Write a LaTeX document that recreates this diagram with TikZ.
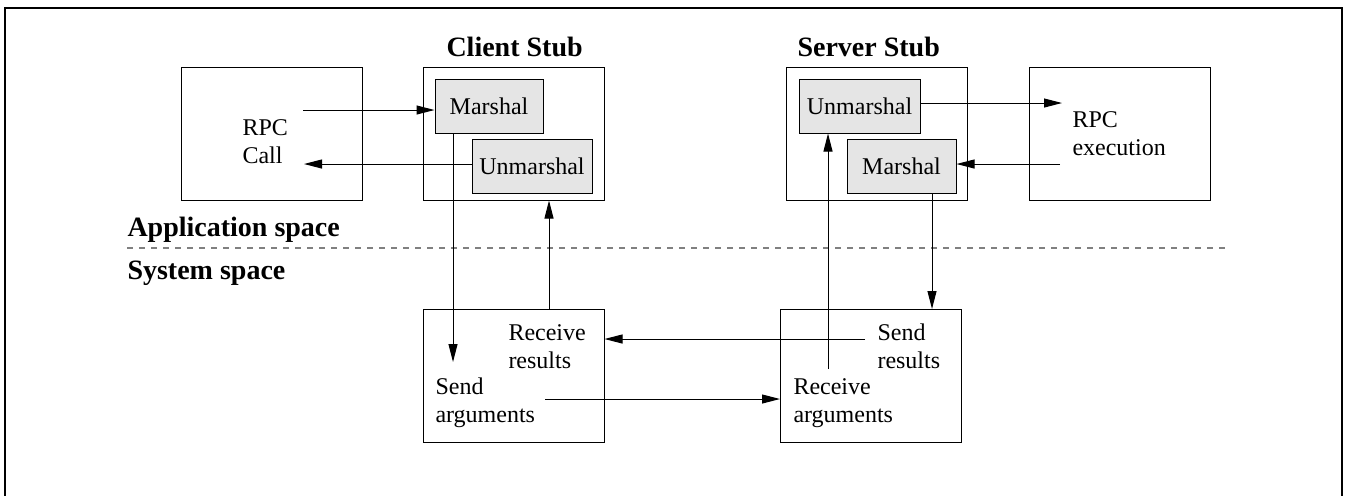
\documentclass[tikz,border=0pt]{standalone}
\usepackage{fontspec}
\setmainfont{Liberation Serif}
\usetikzlibrary{arrows.meta,positioning}

\begin{document}
\begin{tikzpicture}[x=0.5pt,y=-0.5pt,>={Triangle[length=9pt,width=4.5pt]},line width=0.5pt,
		every node/.style={font=\fontsize{12}{14}\selectfont},
		box/.style={draw,minimum width=90.5pt,minimum height=66.5pt,inner sep=0pt},
		stubpart/.style={draw,fill=gray!20,minimum height=27pt,inner sep=0pt},
		txt/.style={inner sep=0pt,anchor=base west,align=left},
		title/.style={inner sep=0pt,anchor=base west,font=\fontsize{14}{17}\selectfont\bfseries}]
			\useasboundingbox (0,0) rectangle (1348,495);
			\draw[line width=1pt] (4.5,500) |- (1342,7.5) -- (1342,500);

			\node[box] (rpccall) at (271.5,133.5) {};
			\node[box] (cstub) at (513.5,133.5) {};
			\node[box] (sstub) at (877,133.5) {};
			\node[box] (rpcexec) at (1120,133.5) {};
			\node[box] (csys) at (513.5,376) {};
			\node[box] (ssys) at (871,376) {};

			\node[stubpart,minimum width=54pt] (cmar) at (489,106) {Marshal};
			\node[stubpart,minimum width=60pt] (cunm) at (532,166.5) {Unmarshal};
			\node[stubpart,minimum width=60.5pt] (sunm) at (859.5,106) {Unmarshal};
			\node[stubpart,minimum width=54.5pt] (smar) at (901.5,166.5) {Marshal};

			\node[title] (cstubl) at (446,56) {Client Stub};
			\node[title] (sstubl) at (797,56) {Server Stub};
			\node[title] (appl) at (127,236) {Application space};
			\node[title] (sysl) at (127,279) {System space};

			\node[txt] (rpcc) at (242,163) {RPC\\Call};
			\node[txt] (rpce) at (1072,155) {RPC\\execution};
			\node[txt] (recres) at (508,368) {Receive\\results};
			\node[txt] (sendarg) at (435,422) {Send\\arguments};
			\node[txt] (sendres) at (877,368) {Send\\results};
			\node[txt] (recarg) at (793,422) {Receive\\arguments};

			\draw[dashed,gray,line width=0.75pt] (127,248) -- (1225,248);

			\coordinate (a1) at (303,110);
			\coordinate (a2) at (304,164);
			\coordinate (a3) at (453,362);
			\coordinate (a4) at (549,309);
			\coordinate (a5) at (1062,103);
			\coordinate (a6) at (1060,164);
			\coordinate (a7) at (932,309);
			\coordinate (a8) at (828,369);
			\coordinate (a9) at (545,399);
			\coordinate (a10) at (865,339);

			\draw[->] (a1) -- (a1 -| cmar.west);
			\draw[->] (a2 -| cunm.west) -- (a2);
			\draw[->] (a3 |- cmar.south) -- (a3);
			\draw[->] (a4 |- csys.north) -- (a4 |- cstub.south);
			\draw[->] (a5 -| sunm.east) -- (a5);
			\draw[->] (a6) -- (a6 -| smar.east);
			\draw[->] (a7 |- smar.south) -- (a7 |- ssys.north);
			\draw[->] (a8) -- (a8 |- sunm.south);
			\draw[->] (a9) -- (a9 -| ssys.west);
			\draw[->] (a10) -- (a10 -| csys.east);
		\end{tikzpicture}
\end{document}
